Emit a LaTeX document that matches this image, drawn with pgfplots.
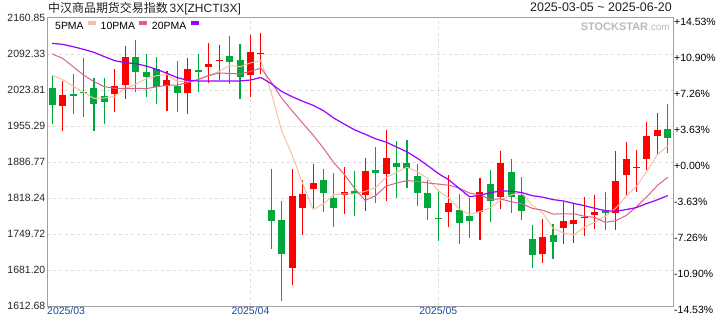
\documentclass[border=0pt]{standalone}
\usepackage{pgfplots}
\pgfplotsset{compat=1.18}
\usepackage{pgfplotstable}
\usepackage{fontspec}
\setmainfont{Liberation Sans}
\newfontfamily\cjk{Noto Sans CJK SC}

\definecolor{cup}{RGB}{255,0,0}
\definecolor{cdown}{RGB}{0,168,60}
\definecolor{maA}{RGB}{245,192,160}
\definecolor{maB}{RGB}{217,98,138}
\definecolor{maC}{RGB}{153,0,255}
\definecolor{gridc}{RGB}{222,222,222}
\definecolor{framec}{RGB}{160,160,160}
\definecolor{xlab}{RGB}{30,75,155}

% up (red) candles: x open high low close
\pgfplotstableread{
x o h l c
1 1994.0 2040.3 1945.1 2014.3
6 2016.2 2063.8 1981.9 2031.4
7 2034.0 2107.6 2007.3 2086.6
11 2032.1 2059.4 1983.8 2042.8
13 2018.7 2084.7 1978.8 2063.8
15 2068.2 2113.3 2037.8 2073.3
16 2078.9 2109.5 2042.9 2080.9
19 2053.0 2128.5 2011.1 2096.1
20 2092.9 2132.3 2054.9 2094.9
23 1684.4 1873.5 1653.3 1822.1
24 1799.8 1852.5 1748.5 1825.9
25 1836.0 1883.6 1799.2 1846.8
28 1823.3 1877.3 1788.5 1829.7
30 1823.3 1893.8 1794.2 1869.6
32 1864.6 1947.7 1813.2 1894.4
38 1792.3 1862.0 1763.1 1808.7
41 1791.0 1856.3 1737.7 1829.7
43 1820.8 1907.7 1798.0 1884.9
47 1711.8 1778.3 1695.2 1743.5
49 1761.8 1810.6 1730.7 1774.5
50 1769.4 1807.5 1733.2 1777.0
51 1780.8 1820.2 1745.9 1782.7
52 1786.5 1824.6 1759.9 1791.6
54 1790.4 1907.7 1757.3 1850.6
55 1862.7 1924.8 1823.9 1892.5
56 1875.3 1909.6 1830.3 1877.3
57 1893.1 1962.9 1872.2 1936.3
58 1936.9 1980.0 1901.4 1947.0
}\upc

% down (green) candles: x open high low close
\pgfplotstableread{
x o h l c
0 2027.6 2051.1 1959.1 1995.9
2 2015.6 2054.3 1978.8 2012.4
3 2020.0 2084.7 1971.8 2018.1
4 2027.6 2046.6 1946.4 1997.8
5 2012.4 2046.6 1959.1 2000.3
8 2086.6 2119.0 2020.6 2058.7
9 2058.1 2092.3 2010.5 2048.6
10 2063.8 2086.6 1997.8 2030.2
12 2032.1 2079.6 1982.6 2018.7
14 2062.5 2092.3 2020.6 2058.7
17 2088.5 2126.6 2035.9 2077.7
18 2080.9 2111.4 2007.3 2049.2
21 1795.4 1873.5 1721.8 1775.1
22 1776.4 1812.6 1622.8 1712.3
26 1851.9 1873.5 1792.3 1828.4
27 1818.3 1865.8 1763.7 1799.8
29 1831.6 1869.6 1784.6 1826.5
31 1871.5 1915.3 1809.4 1866.5
33 1884.9 1926.7 1818.9 1877.9
34 1884.9 1928.6 1837.9 1875.4
35 1860.1 1883.6 1803.7 1828.4
36 1827.8 1851.9 1775.7 1799.8
37 1780.9 1831.6 1737.1 1778.9
39 1795.4 1825.9 1731.3 1771.3
40 1784.0 1818.3 1742.8 1775.1
42 1844.9 1871.5 1772.6 1813.2
44 1867.7 1892.5 1790.4 1819.5
45 1824.0 1858.2 1777.0 1794.2
46 1740.2 1766.9 1685.7 1710.4
48 1747.8 1768.8 1702.8 1735.1
53 1795.4 1829.7 1758.0 1790.4
59 1949.6 1997.2 1904.5 1933.1
}\dnc

% moving averages: x 5PMA 10PMA 20PMA
\pgfplotstableread{
x a b d
0 2051.7 2092.3 2112.6
1 2043.5 2084.1 2110.7
2 2030.8 2068.2 2106.3
3 2020.0 2052.4 2101.2
4 2007.7 2039.7 2095.5
5 2008.6 2030.2 2087.3
6 2012.0 2027.0 2079.6
7 2026.8 2027.0 2075.8
8 2035.0 2027.0 2073.9
9 2045.1 2026.4 2069.5
10 2051.1 2029.8 2063.2
11 2053.4 2032.7 2055.5
12 2039.8 2033.3 2047.3
13 2040.8 2037.9 2042.2
14 2042.8 2044.0 2041.0
15 2051.5 2051.3 2041.0
16 2059.1 2056.2 2041.0
17 2070.9 2055.3 2041.0
18 2068.0 2054.4 2041.0
19 2075.4 2059.1 2042.8
20 2079.8 2065.6 2047.7
21 2018.6 2038.8 2035.8
22 1945.5 2008.2 2020.8
23 1900.1 1984.0 2011.0
24 1846.1 1960.8 2002.4
25 1796.4 1938.1 1994.7
26 1807.1 1912.9 1984.5
27 1824.6 1885.1 1970.2
28 1826.1 1863.1 1958.8
29 1826.2 1836.2 1947.7
30 1830.8 1813.6 1939.6
31 1838.4 1822.8 1930.8
32 1857.3 1841.0 1924.6
33 1867.0 1846.6 1915.3
34 1876.8 1851.5 1906.1
35 1868.5 1849.7 1893.9
36 1855.2 1846.8 1879.8
37 1832.1 1844.7 1864.9
38 1818.2 1842.6 1852.9
39 1797.4 1837.1 1836.6
40 1786.8 1827.6 1820.6
41 1792.7 1824.0 1823.4
42 1799.6 1815.8 1828.4
43 1814.8 1816.5 1831.6
44 1824.5 1811.0 1831.2
45 1828.3 1807.5 1828.6
46 1804.4 1798.6 1822.7
47 1790.5 1795.1 1819.9
48 1760.5 1787.7 1815.2
49 1751.5 1788.0 1812.6
50 1748.1 1788.2 1807.9
51 1762.6 1783.5 1803.7
52 1772.2 1781.3 1798.6
53 1783.2 1771.9 1794.2
54 1798.5 1775.0 1793.0
55 1821.6 1784.8 1796.2
56 1840.5 1801.5 1800.1
57 1869.4 1820.8 1807.9
58 1900.7 1842.0 1814.8
59 1917.2 1857.9 1822.9
}\mas

\pgfplotsset{
  candle/.style 2 args={only marks, mark=*, mark size=0pt,
    mark options={draw=none, fill=none}, color=#1, forget plot,
    error bars/.cd, y dir=minus, y explicit, error mark=none,
    error bar style={line width=#2, color=#1, solid}},
}

\begin{document}
\begin{tikzpicture}
\useasboundingbox (0,0) rectangle (720bp,320bp);
\node[anchor=base west, inner sep=0, font=\fontsize{12}{14}\selectfont, text=black!88] at (48bp,307.5bp) {{\cjk 中汉商品期货交易指数}\,3X[ZHCTI3X]};
\node[anchor=base east, inner sep=0, font=\fontsize{12.5}{14}\selectfont, text=black!88] at (672bp,308bp) {2025-03-05 \textasciitilde{} 2025-06-20};

\begin{axis}[
  at={(47bp,14bp)}, anchor=south west,
  scale only axis, width=626bp, height=288bp,
  xmin=-0.5, xmax=59.5, ymin=1612.68, ymax=2160.85,
  axis line style={framec, line width=1bp},
  /pgf/number format/assume math mode=true,
  xtick={19,37}, xticklabels={2025/04,2025/05},
  extra x ticks={-0.5}, extra x tick labels={2025/03},
  extra x tick style={grid=none, xticklabel style={anchor=north west, xshift=-1bp}},
  ytick={1681.20,1749.72,1818.24,1886.77,1955.29,2023.81,2092.33},
  yticklabels={1681.20,1749.72,1818.24,1886.77,1955.29,2023.81,2092.33},
  extra y ticks={1612.68,2160.85}, extra y tick labels={1612.68,2160.85},
  extra y tick style={grid=none},
  grid=major, major grid style={gridc, dash pattern=on 3bp off 3bp, line width=0.9bp},
  major tick length=0pt,
  tick label style={font=\fontsize{10.5}{12}\selectfont},
  xticklabel style={text=xlab, inner sep=1bp},
  yticklabel style={text=black!85, inner sep=1.5bp},
  legend style={at={(rel axis cs:0,1)}, anchor=north west, draw=none, fill=none,
    font=\fontsize{10.5}{12}\selectfont, inner xsep=8bp, inner ysep=3bp,
    nodes={inner sep=0pt}, /tikz/column sep=4.5bp},
  legend columns=3,
  legend plot pos=right,
  legend image code/.code={\fill[#1] (0bp,2.5bp) rectangle (7bp,5bp);},
]
% wicks
\addplot[candle={cup}{1.1bp}] table[x=x, y=h, y error minus expr=\thisrow{h}-\thisrow{l}] {\upc};
\addplot[candle={cdown}{1.1bp}] table[x=x, y=h, y error minus expr=\thisrow{h}-\thisrow{l}] {\dnc};
% bodies
\addplot[candle={cup}{7bp}] table[x=x, y=c, y error minus expr=\thisrow{c}-\thisrow{o}] {\upc};
\addplot[candle={cdown}{7bp}] table[x=x, y=o, y error minus expr=\thisrow{o}-\thisrow{c}] {\dnc};
% moving averages
\addplot[maA, line width=1bp] table[x=x, y=a] {\mas};
\addlegendentry{5PMA}
\addplot[maB, line width=1bp] table[x=x, y=b] {\mas};
\addlegendentry{10PMA}
\addplot[maC, line width=1.2bp] table[x=x, y=d] {\mas};
\addlegendentry{20PMA}
\node[anchor=north east, inner sep=0, text=black!27, font=\fontsize{11}{12}\selectfont\bfseries] at (rel axis cs:0.995,0.985) {STOCKSTAR{\mdseries\fontsize{10}{12}\selectfont .com}};
\end{axis}

\begin{axis}[
  at={(47bp,14bp)}, anchor=south west,
  scale only axis, width=626bp, height=288bp,
  xmin=-0.5, xmax=59.5, ymin=1612.68, ymax=2160.85,
  axis x line=none, axis y line*=right, y axis line style={draw=none},
  major tick length=0pt,
  /pgf/number format/assume math mode=true,
  ytick={1612.68,1681.20,1749.72,1818.24,1886.77,1955.29,2023.81,2092.33,2160.85},
  yticklabels={-14.53\%,-10.90\%,-7.26\%,-3.63\%,+0.00\%,+3.63\%,+7.26\%,+10.90\%,+14.53\%},
  yticklabel style={font=\fontsize{10.5}{12}\selectfont, anchor=west, inner sep=1bp, yshift=-3.5bp, text=black},
]
\end{axis}
\end{tikzpicture}
\end{document}
